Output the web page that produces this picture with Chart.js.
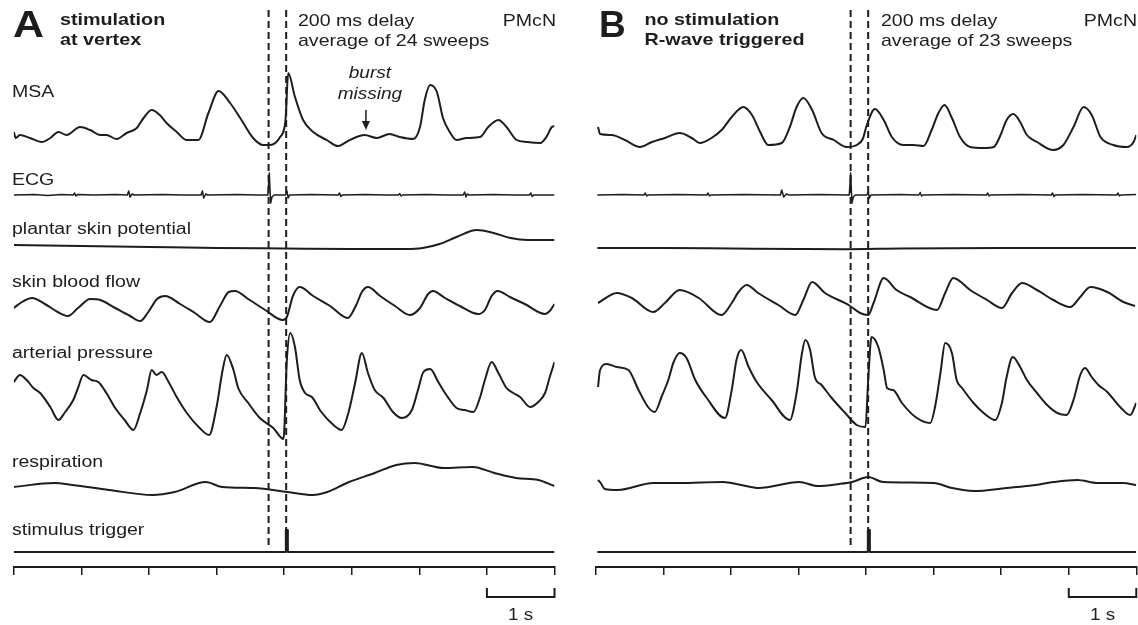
<!DOCTYPE html>
<html>
<head>
<meta charset="utf-8">
<script src="https://cdn.jsdelivr.net/npm/chart.js@4.4.0/dist/chart.umd.min.js"></script>
<style>
  body { margin: 0; background: #fff; width: 1138px; height: 625px; overflow: hidden; position: relative; }
  canvas { position: absolute; top: 0; }
  #panelA { left: 0; }
  #panelB { left: 575px; }
</style>
</head>
<body>
<canvas id="panelA" width="575" height="625"></canvas>
<canvas id="panelB" width="563" height="625"></canvas>
<script>
// time in seconds, values are trace amplitudes (arbitrary units, up = positive)
const traceNames = ['MSA', 'ECG', 'plantar skin potential', 'skin blood flow', 'arterial pressure', 'respiration', 'stimulus trigger'];
const markerTimesA = [3.77, 4.03];
const markerTimesB = [3.77, 4.03];
const scaleBarSec = [7, 8];
const burstMissingAt = 5.21;

const msaA = [[0,18],[0.03,12],[0.09,15],[0.24,12],[0.41,8],[0.54,12],[0.66,18],[0.78,15],[0.98,23],[1.13,20],[1.28,15],[1.37,15],[1.52,11],[1.67,17],[1.82,22],[1.92,32],[2.04,40],[2.16,35],[2.26,27],[2.41,18],[2.56,10],[2.73,10],[2.88,37],[3.03,59],[3.20,47],[3.35,32],[3.54,12],[3.69,5],[3.79,5],[3.94,13],[4.02,30],[4.06,77],[4.16,53],[4.28,30],[4.43,18],[4.63,10],[4.80,4],[4.92,8],[5.07,13],[5.19,15],[5.37,12],[5.56,16],[5.71,13],[5.91,11],[6.01,23],[6.08,50],[6.16,65],[6.26,58],[6.35,32],[6.45,18],[6.55,10],[6.70,12],[6.90,13],[7.02,23],[7.17,30],[7.29,23],[7.44,10],[7.59,8],[7.79,7],[7.88,13],[7.96,23],[8.0,24]];
const ecgA = [[0,0],[0.3,0.5],[0.5,-0.5],[0.7,0.5],[0.88,0],[0.9,2],[0.92,-1],[0.94,0.5],[1.2,0],[1.5,0.5],[1.68,0],[1.70,4],[1.72,-2],[1.75,1],[1.78,0],[2.2,0.5],[2.5,0],[2.77,0],[2.79,4],[2.81,-3],[2.84,1],[2.87,0],[3.3,0.5],[3.6,0],[3.76,0],[3.78,22],[3.80,-8],[3.82,-2],[3.85,0],[4.02,0],[4.04,4],[4.06,-3],[4.08,0],[4.4,0.5],[4.8,0],[4.82,2],[4.84,-1.5],[4.86,0],[5.2,0.5],[5.5,0],[5.69,0],[5.71,1.5],[5.73,-1],[5.75,0],[6.1,0.5],[6.4,0],[6.65,0],[6.67,3],[6.69,-2],[6.71,1],[6.74,0],[7.1,0.5],[7.4,0],[7.63,0],[7.65,2],[7.67,-1.5],[7.69,0],[8,0]];
const plantarA = [[0,5],[1,4],[2,3],[3,2],[4,1.5],[5,1],[5.8,1],[6.05,2],[6.3,6],[6.55,13],[6.85,20],[7.1,17],[7.35,12],[7.6,10],[8,10]];
const skinA = [[0,17],[0.12,23],[0.27,27],[0.46,21],[0.65,13],[0.80,9],[0.95,17],[1.13,26],[1.28,25],[1.50,17],[1.72,9],[1.87,4],[1.99,13],[2.12,26],[2.24,29],[2.46,21],[2.68,12],[2.90,3],[3.05,19],[3.18,33],[3.27,34],[3.49,25],[3.72,15],[3.98,5],[4.04,8],[4.13,29],[4.23,38],[4.43,29],[4.68,19],[4.94,7],[5.06,19],[5.15,33],[5.24,38],[5.42,29],[5.64,19],[5.86,10],[6.01,17],[6.13,31],[6.20,34],[6.38,27],[6.60,19],[6.87,11],[6.97,15],[7.07,29],[7.16,34],[7.34,28],[7.56,21],[7.86,11],[7.93,14],[8.0,21]];
const pressureA = [[0,58],[0.09,65],[0.19,60],[0.29,52],[0.39,47],[0.54,33],[0.66,20],[0.76,28],[0.88,40],[0.95,52],[1.03,65],[1.15,60],[1.25,58],[1.37,47],[1.50,32],[1.64,20],[1.77,10],[1.87,27],[1.97,50],[2.04,70],[2.11,65],[2.19,68],[2.29,58],[2.41,43],[2.56,27],[2.75,12],[2.89,5],[3.00,33],[3.09,70],[3.15,85],[3.25,70],[3.32,52],[3.47,37],[3.64,22],[3.84,12],[3.99,1],[4.04,80],[4.09,107],[4.16,93],[4.23,60],[4.31,47],[4.41,43],[4.55,28],[4.73,15],[4.85,10],[4.95,27],[5.05,57],[5.15,87],[5.24,67],[5.34,50],[5.47,42],[5.61,28],[5.74,22],[5.89,30],[5.98,50],[6.06,68],[6.16,71],[6.28,58],[6.40,45],[6.55,32],[6.67,30],[6.80,28],[6.90,43],[6.97,60],[7.07,78],[7.17,67],[7.29,52],[7.39,47],[7.49,43],[7.64,33],[7.76,38],[7.86,47],[7.93,63],[8.0,78]];
const respA = [[0,13],[0.60,17],[0.87,15],[1.41,10],[2.05,5],[2.38,8],[2.84,18],[3.08,13],[3.56,12],[4.05,8],[4.42,5],[4.64,8],[4.96,18],[5.34,27],[5.66,35],[5.93,37],[6.36,32],[6.79,33],[7.11,27],[7.43,22],[7.76,20],[8.0,14]];
const triggerA = [[0,0],[4.025,0],[4.025,22],[4.055,22],[4.055,0],[8,0]];

const msaB = [[0.03,23],[0.06,16],[0.23,15],[0.43,10],[0.65,3],[0.83,8],[1.02,12],[1.24,17],[1.42,12],[1.54,7],[1.71,12],[1.86,20],[2.01,33],[2.18,43],[2.31,35],[2.43,18],[2.55,5],[2.75,7],[2.87,23],[2.97,43],[3.07,52],[3.20,40],[3.34,17],[3.52,10],[3.71,3],[3.86,5],[3.95,11],[4.01,25],[4.13,41],[4.26,30],[4.38,13],[4.55,5],[4.70,5],[4.85,4],[4.97,20],[5.07,37],[5.16,45],[5.27,32],[5.39,13],[5.54,3],[5.74,2],[5.89,3],[5.99,15],[6.08,30],[6.18,36],[6.28,28],[6.38,15],[6.53,8],[6.77,0],[6.92,5],[7.07,23],[7.22,43],[7.34,35],[7.47,13],[7.66,5],[7.86,3],[7.96,8],[8.0,15]];
const ecgB = [[0.02,0],[0.4,0.5],[0.71,0],[0.73,2],[0.75,-1],[0.77,0],[1.2,0.5],[1.64,0],[1.66,2],[1.68,-1],[1.70,0],[2.2,0.5],[2.73,0],[2.75,5],[2.78,-2],[2.82,1],[2.86,0],[3.3,0.5],[3.75,0],[3.77,22],[3.79,-8],[3.81,-2],[3.84,0],[4.01,0],[4.03,3],[4.05,-3],[4.07,0],[4.5,0.5],[4.78,0],[4.80,2.5],[4.82,-1],[4.84,0],[5.3,0.5],[5.78,0],[5.80,2],[5.82,-1],[5.84,0],[6.3,0.5],[6.74,0],[6.76,2],[6.78,-1.5],[6.80,0],[7.2,0.5],[7.71,0],[7.73,2],[7.75,-1],[7.77,0],[8,0.5]];
const plantarB = [[0.02,2],[1,2],[2,1.5],[3,1],[3.7,0.8],[4.5,1.5],[6,2],[8,2]];
const skinB = [[0.03,22],[0.31,32],[0.53,27],[0.85,13],[1.02,22],[1.24,35],[1.52,27],[1.86,10],[2.01,22],[2.11,33],[2.23,40],[2.40,32],[2.70,20],[2.95,10],[3.07,25],[3.20,43],[3.39,32],[3.74,20],[3.91,12],[4.03,10],[4.11,22],[4.26,47],[4.45,35],[4.65,28],[5.05,15],[5.17,32],[5.29,47],[5.54,35],[5.79,25],[6.01,17],[6.16,32],[6.31,42],[6.53,35],[6.77,25],[7.02,18],[7.17,28],[7.32,38],[7.57,33],[7.81,23],[7.98,19]];
const pressureB = [[0.03,53],[0.06,70],[0.16,76],[0.31,73],[0.48,70],[0.63,50],[0.77,33],[0.87,28],[0.97,43],[1.07,60],[1.15,78],[1.24,87],[1.34,82],[1.47,60],[1.64,42],[1.91,22],[2.01,50],[2.08,80],[2.15,90],[2.26,73],[2.38,58],[2.60,40],[2.87,20],[2.97,47],[3.05,87],[3.10,100],[3.17,90],[3.24,63],[3.34,55],[3.49,42],[3.69,27],[3.86,15],[3.99,13],[4.03,60],[4.08,103],[4.18,93],[4.26,70],[4.31,52],[4.40,50],[4.53,37],[4.73,23],[4.95,17],[5.02,33],[5.10,67],[5.17,97],[5.27,87],[5.34,60],[5.42,52],[5.59,37],[5.74,27],[5.91,20],[6.01,37],[6.08,63],[6.17,83],[6.28,73],[6.38,60],[6.53,47],[6.68,35],[6.83,27],[6.97,25],[7.07,40],[7.17,65],[7.24,72],[7.34,63],[7.44,55],[7.57,48],[7.76,33],[7.91,25],[8.0,37]];
const respB = [[0.03,20],[0.07,17],[0.13,11],[0.32,10],[0.85,17],[1.23,17],[1.88,18],[2.15,15],[2.41,12],[3.01,18],[3.28,14],[3.60,16],[3.79,18],[4.03,23],[4.25,18],[5.00,17],[5.27,12],[5.59,9],[6.08,12],[6.51,15],[6.78,18],[7.13,20],[7.43,17],[7.80,17],[8.0,15]];
const triggerB = [[0.02,0],[4.025,0],[4.025,22],[4.055,22],[4.055,0],[8,0]];

// layout (pixels from the top of the figure)
const ink = '#1d1d1d';
const axisY = 567;
const baselines = [150, 195, 250, 325, 440, 500, 552];
const labelBaselines = [97, 185, 234, 287, 358, 467, 535];
const sans = '"Liberation Sans", Arial, Helvetica, sans-serif';

function traceDataset(points, base, width, smooth) {
    return {
        data: points.map(([t, v]) => ({ x: t, y: base - v })),
        borderColor: ink,
        borderWidth: width,
        pointRadius: 0,
        fill: false,
        tension: smooth ? 0.4 : 0,
        cubicInterpolationMode: smooth ? 'monotone' : 'default',
        borderJoinStyle: 'round'
    };
}

function markerDataset(t) {
    return {
        data: [{ x: t, y: 10 }, { x: t, y: 548 }],
        borderColor: ink, borderWidth: 2, borderDash: [7, 4], pointRadius: 0
    };
}

function scaleBarDataset() {
    const [a, b] = scaleBarSec;
    return {
        data: [{ x: a, y: 588 }, { x: a, y: 597 }, { x: b, y: 597 }, { x: b, y: 588 }],
        borderColor: ink, borderWidth: 2, pointRadius: 0, clip: false
    };
}

function textAt(ctx, str, x, y, font, stretch, align) {
    ctx.save();
    ctx.font = font;
    ctx.fillStyle = ink;
    ctx.textBaseline = 'alphabetic';
    const w = ctx.measureText(str).width * stretch;
    let x0 = x;
    if (align === 'center') x0 = x - w / 2;
    else if (align === 'right') x0 = x - w;
    ctx.translate(x0, y);
    ctx.scale(stretch, 1);
    ctx.fillText(str, 0, 0);
    ctx.restore();
}

function makePanel(id, series, markers, padLeft, padRight, texts) {
    const datasets = series.map((pts, i) => traceDataset(pts, baselines[i], i === 1 ? 1.5 : 2, i !== 1 && i !== 6));
    markers.forEach(t => datasets.push(markerDataset(t)));
    datasets.push(scaleBarDataset());

    const textPlugin = {
        id: 'figureText',
        afterDraw(chart) {
            const ctx = chart.ctx;
            const xs = chart.scales.x;
            texts(ctx, xs);
            textAt(ctx, '1 s', xs.getPixelForValue((scaleBarSec[0] + scaleBarSec[1]) / 2), 620, `16px ${sans}`, 1.18, 'center');
        }
    };

    return new Chart(document.getElementById(id), {
        type: 'line',
        data: { datasets },
        options: {
            responsive: false,
            animation: false,
            devicePixelRatio: 1,
            layout: { padding: { left: padLeft, right: padRight, top: 0, bottom: 0 } },
            scales: {
                x: {
                    type: 'linear', min: 0, max: 8,
                    ticks: { stepSize: 1, display: false },
                    grid: { drawOnChartArea: false, drawTicks: true, tickLength: 8, color: ink, lineWidth: 1.5 },
                    border: { display: true, color: ink, width: 2 },
                    afterFit: s => { s.height = 625 - axisY; }
                },
                y: { display: false, reverse: true, min: 0, max: axisY }
            },
            plugins: { legend: { display: false }, tooltip: { enabled: false } }
        },
        plugins: [textPlugin]
    });
}

makePanel('panelA', [msaA, ecgA, plantarA, skinA, pressureA, respA, triggerA], markerTimesA, 13.8, 20.5, (ctx, xs) => {
    textAt(ctx, 'A', 13, 37, `bold 37px ${sans}`, 1.16, 'left');
    textAt(ctx, 'stimulation', 60, 25, `bold 17px ${sans}`, 1.16, 'left');
    textAt(ctx, 'at vertex', 60, 45, `bold 17px ${sans}`, 1.16, 'left');
    textAt(ctx, '200 ms delay', 298, 26, `17px ${sans}`, 1.15, 'left');
    textAt(ctx, 'average of 24 sweeps', 298, 46, `17px ${sans}`, 1.15, 'left');
    textAt(ctx, 'PMcN', 556, 26, `17px ${sans}`, 1.15, 'right');
    traceNames.forEach((name, i) => textAt(ctx, name, 12, labelBaselines[i], `16px ${sans}`, 1.22, 'left'));
    // burst missing note with arrow
    const bx = xs.getPixelForValue(burstMissingAt);
    textAt(ctx, 'burst', bx + 4, 78, `italic 17px ${sans}`, 1.12, 'center');
    textAt(ctx, 'missing', bx + 4, 99, `italic 17px ${sans}`, 1.12, 'center');
    ctx.save();
    ctx.strokeStyle = ink; ctx.fillStyle = ink; ctx.lineWidth = 1.5;
    ctx.beginPath(); ctx.moveTo(bx, 110); ctx.lineTo(bx, 123); ctx.stroke();
    ctx.beginPath(); ctx.moveTo(bx - 4, 121); ctx.lineTo(bx + 4, 121); ctx.lineTo(bx, 130); ctx.closePath(); ctx.fill();
    ctx.restore();
});

makePanel('panelB', [msaB, ecgB, plantarB, skinB, pressureB, respB, triggerB], markerTimesB, 21, 1.7, (ctx, xs) => {
    textAt(ctx, 'B', 24, 37, `bold 37px ${sans}`, 1.0, 'left');
    textAt(ctx, 'no stimulation', 69.5, 25, `bold 17px ${sans}`, 1.16, 'left');
    textAt(ctx, 'R-wave triggered', 69.5, 45, `bold 17px ${sans}`, 1.16, 'left');
    textAt(ctx, '200 ms delay', 306, 26, `17px ${sans}`, 1.15, 'left');
    textAt(ctx, 'average of 23 sweeps', 306, 46, `17px ${sans}`, 1.15, 'left');
    textAt(ctx, 'PMcN', 562, 26, `17px ${sans}`, 1.15, 'right');
});
</script>
</body>
</html>
